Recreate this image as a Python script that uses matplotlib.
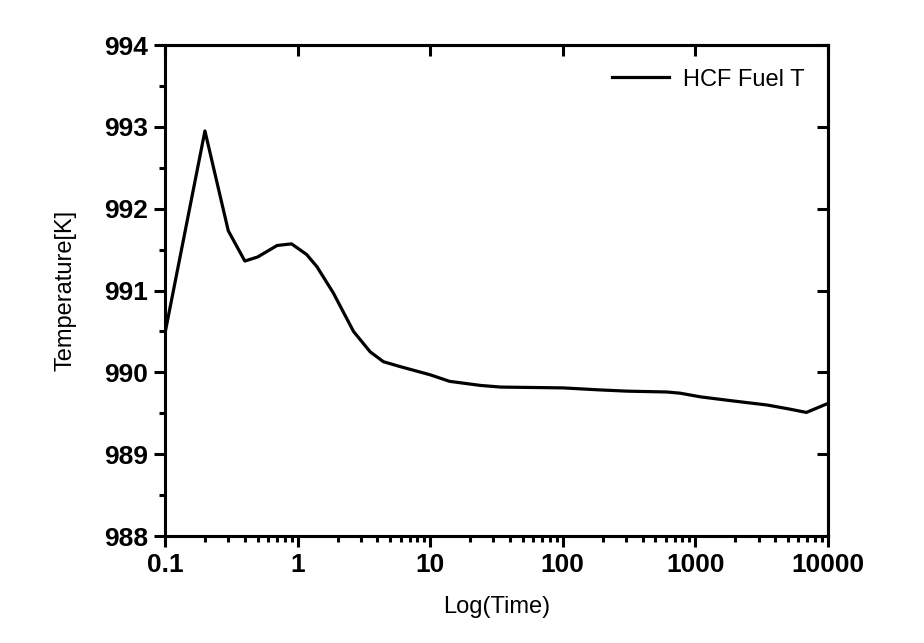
import matplotlib
matplotlib.use("Agg")
import matplotlib.pyplot as plt
from matplotlib.ticker import FixedLocator, NullLocator, LogLocator, MultipleLocator, FuncFormatter

plt.rcParams['font.family'] = ['Liberation Sans', 'DejaVu Sans']

# HCF fuel temperature vs time
time = [0.1, 0.2, 0.3, 0.4, 0.5, 0.7, 0.9, 1.17, 1.4, 1.86, 2.64, 3.53, 4.44, 5.94,
        10, 14, 24, 34, 100, 192, 307, 609, 770, 1097, 1937, 3508, 5176, 6880, 10000]
temp = [990.48, 992.95, 991.73, 991.36, 991.41, 991.55, 991.57, 991.44, 991.29, 990.97,
        990.50, 990.25, 990.13, 990.07, 989.97, 989.89, 989.84, 989.82, 989.81, 989.785,
        989.77, 989.76, 989.745, 989.70, 989.65, 989.60, 989.55, 989.51, 989.62]

xticks = [0.1, 1, 10, 100, 1000, 10000]
yticks = [988, 989, 990, 991, 992, 993, 994]

fig = plt.figure(figsize=(9.24, 6.43), dpi=100)
ax = fig.add_axes([0.1786, 0.1664, 0.7174, 0.7636])

ax.plot(time, temp, color='black', lw=2.3, label='HCF Fuel T')
ax.set_xscale('log')
ax.set_xlim(0.1, 10000)
ax.set_ylim(988, 994)

ax.xaxis.set_major_locator(FixedLocator(xticks))
ax.xaxis.set_minor_locator(LogLocator(base=10, subs=range(2, 10)))
ax.xaxis.set_major_formatter(FuncFormatter(lambda v, p: ('%g' % v)))
ax.yaxis.set_major_locator(FixedLocator(yticks))
ax.yaxis.set_minor_locator(MultipleLocator(0.5))

ax.tick_params(which='major', direction='out', length=8, width=2.2, labelsize=19, pad=4)
ax.tick_params(which='minor', direction='out', length=4.5, width=2.2)
for lab in ax.get_xticklabels() + ax.get_yticklabels():
    lab.set_fontweight('bold')

for sp in ax.spines.values():
    sp.set_linewidth(2.2)

# top and right: major ticks only, pointing inward
top = ax.secondary_xaxis('top')
top.xaxis.set_major_locator(FixedLocator(xticks))
top.xaxis.set_minor_locator(NullLocator())
top.tick_params(which='major', direction='in', length=8, width=2.2, labeltop=False)
top.spines['top'].set_linewidth(2.2)
right = ax.secondary_yaxis('right')
right.yaxis.set_major_locator(FixedLocator(yticks))
right.yaxis.set_minor_locator(NullLocator())
right.tick_params(which='major', direction='in', length=8, width=2.2, labelright=False)
right.spines['right'].set_linewidth(2.2)

ax.set_xlabel('Log(Time)', fontsize=17, labelpad=14)
ax.set_ylabel('Temperature[K]', fontsize=17, labelpad=20)

ax.legend(loc='upper right', frameon=False, fontsize=17, handlelength=2.4,
          borderaxespad=0.6, handletextpad=0.6)

fig.savefig('out.png', dpi=100)
